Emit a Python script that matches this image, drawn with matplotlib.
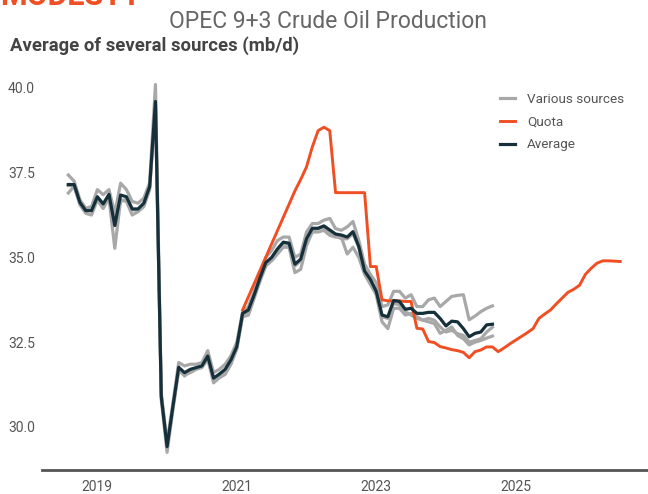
import numpy as np
import matplotlib
matplotlib.use("Agg")
import matplotlib.pyplot as plt
from matplotlib.lines import Line2D

# ---- data (monthly, index 0 = first month shown) ----
average = [37.15, 37.15, 36.62, 36.38, 36.38, 36.79, 36.58, 36.86, 35.94, 36.84,
           36.79, 36.43, 36.43, 36.60, 37.09, 39.60, 30.89, 29.42, 30.60, 31.76,
           31.60, 31.70, 31.75, 31.80, 32.09, 31.44, 31.56, 31.70, 31.98, 32.37,
           33.35, 33.45, 33.90, 34.40, 34.85, 35.00, 35.25, 35.45, 35.42, 34.80,
           34.95, 35.55, 35.86, 35.86, 35.93, 35.81, 35.69, 35.66, 35.60, 35.76,
           35.32, 34.60, 34.35, 34.00, 33.30, 33.25, 33.73, 33.70, 33.47, 33.50,
           33.35, 33.35, 33.38, 33.38, 33.20, 32.98, 33.12, 33.10, 32.90, 32.66,
           32.76, 32.80, 33.01, 33.03]

source_a = [37.43, 37.25, 36.70, 36.45, 36.50, 37.00, 36.85, 37.00, 36.30, 37.19,
            37.00, 36.65, 36.60, 36.75, 37.20, 40.10, 31.00, 29.55, 30.70, 31.90,
            31.80, 31.85, 31.85, 31.90, 32.25, 31.60, 31.70, 31.85, 32.10, 32.50,
            33.40, 33.55, 34.00, 34.55, 35.00, 35.20, 35.50, 35.60, 35.60, 35.00,
            35.10, 35.75, 36.00, 36.00, 36.10, 36.15, 35.85, 35.80, 35.90, 36.06,
            35.50, 34.80, 34.50, 34.25, 33.55, 33.60, 34.00, 34.00, 33.80, 33.90,
            33.55, 33.55, 33.75, 33.80, 33.55, 33.70, 33.85, 33.88, 33.90, 33.16,
            33.27, 33.40, 33.50, 33.57]

source_b = [36.90, 37.10, 36.55, 36.30, 36.25, 36.70, 36.45, 36.75, 35.27, 36.70,
            36.65, 36.25, 36.35, 36.50, 37.00, 39.50, 30.80, 29.25, 30.50, 31.65,
            31.55, 31.60, 31.70, 31.75, 32.00, 31.30, 31.45, 31.55, 31.85, 32.30,
            33.25, 33.30, 33.80, 34.30, 34.75, 34.90, 35.10, 35.30, 35.30, 34.55,
            34.65, 35.35, 35.75, 35.75, 35.80, 35.65, 35.60, 35.60, 35.10, 35.30,
            35.00, 34.50, 34.20, 33.90, 33.10, 32.90, 33.50, 33.50, 33.30, 33.35,
            33.25, 33.15, 33.10, 33.05, 32.76, 32.85, 32.95, 32.70, 32.60, 32.42,
            32.50, 32.55, 32.62, 32.68]

source_c = [37.12, 37.12, 36.60, 36.40, 36.40, 36.70, 36.45, 36.85, 36.00, 36.65,
            36.72, 36.40, 36.40, 36.55, 37.05, 39.50, 30.95, 29.45, 30.60, 31.70,
            31.50, 31.65, 31.72, 31.78, 32.05, 31.40, 31.50, 31.68, 31.95, 32.35,
            33.30, 33.40, 33.85, 34.35, 34.80, 34.95, 35.20, 35.40, 35.38, 34.75,
            34.90, 35.50, 35.80, 35.85, 35.90, 35.75, 35.65, 35.55, 35.55, 35.70,
            35.30, 34.55, 34.30, 33.95, 33.25, 33.20, 33.65, 33.60, 33.40, 33.30,
            33.20, 33.15, 33.20, 33.15, 32.95, 32.80, 32.85, 32.75, 32.70, 32.50,
            32.55, 32.60, 32.80, 32.94]

quota_start = 30
quota = [33.45, 33.84, 34.23, 34.62, 35.01, 35.40, 35.79, 36.18, 36.57, 36.96,
         37.30, 37.67, 38.26, 38.74, 38.84, 38.74, 36.91, 36.91, 36.91, 36.91,
         36.91, 36.91, 34.73, 34.73, 33.75, 33.72, 33.72, 33.72, 33.70, 33.70,
         32.91, 32.89, 32.52, 32.49, 32.37, 32.33, 32.28, 32.25, 32.20, 32.04,
         32.22, 32.27, 32.36, 32.36, 32.22, 32.33, 32.45, 32.56, 32.67, 32.78,
         32.90, 33.20, 33.33, 33.45, 33.63, 33.80, 33.97, 34.06, 34.18, 34.50,
         34.68, 34.83, 34.90, 34.90, 34.89, 34.88]

x_tick_pos = [5, 29, 53, 77]
x_tick_labels = ["2019", "2021", "2023", "2025"]
y_ticks = [30.0, 32.5, 35.0, 37.5, 40.0]
legend_labels = ["Various sources", "Quota", "Average"]

title = "OPEC 9+3 Crude Oil Production"
subtitle = "Average of several sources (mb/d)"
brand = "MODESTY"

# ---- style ----
ORANGE = "#F04E23"
DARK = "#15303A"
GRAY = "#A8A8A8"
plt.rcParams["font.family"] = ["Roboto", "DejaVu Sans"]

fig = plt.figure(figsize=(6.48, 4.94), dpi=100)
ax = fig.add_axes([42 / 648, 1 - 470 / 494, 1 - 42 / 648, (470 - 54) / 494])

x_src = np.arange(len(average))
x_quota = np.arange(quota_start, quota_start + len(quota))

lw = 2.3
for s in (source_a, source_b, source_c):
    ax.plot(x_src, s, color=GRAY, lw=lw, zorder=2)
ax.plot(x_quota, quota, color=ORANGE, lw=2.1, zorder=3)
ax.plot(x_src, average, color=DARK, lw=lw, zorder=4)

ax.set_xlim(-4.53, 99.78)
ax.set_ylim(28.73, 41.0)
ax.set_xticks(x_tick_pos)
ax.set_xticklabels(x_tick_labels)
ax.set_yticks(y_ticks)
ax.set_yticklabels([f"{v:.1f}" for v in y_ticks])
ax.tick_params(axis="both", length=0, labelsize=10, labelcolor="#555555")
ax.tick_params(axis="x", pad=7)
ax.tick_params(axis="y", pad=5)
for side in ("top", "right", "left"):
    ax.spines[side].set_visible(False)
ax.spines["bottom"].set_color("#555555")
ax.spines["bottom"].set_linewidth(2.0)
ax.set_facecolor("none")

# legend
handles = [Line2D([], [], color=GRAY, lw=lw),
           Line2D([], [], color=ORANGE, lw=2.1),
           Line2D([], [], color=DARK, lw=lw)]
fig.legend(handles, legend_labels,
           loc="upper left", bbox_to_anchor=(500 / 648, 1 - 93 / 494),
           frameon=False, fontsize=9.7, labelcolor="#555555",
           handlelength=1.1, handletextpad=0.9, labelspacing=0.72,
           borderpad=0, borderaxespad=0)

# texts
fig.text(0.0, 1 - 5 / 494, brand, color=ORANGE, fontsize=22, fontweight="bold",
         ha="left", va="baseline")
fig.text(328 / 648, 1 - 21 / 494, title, color="#666666", fontsize=16.5,
         fontweight="normal", ha="center", va="center")
fig.text(10 / 648, 1 - 46 / 494, subtitle, color="#444444", fontsize=13.3,
         fontweight="bold", ha="left", va="center")

fig.savefig("out.png", dpi=100)
